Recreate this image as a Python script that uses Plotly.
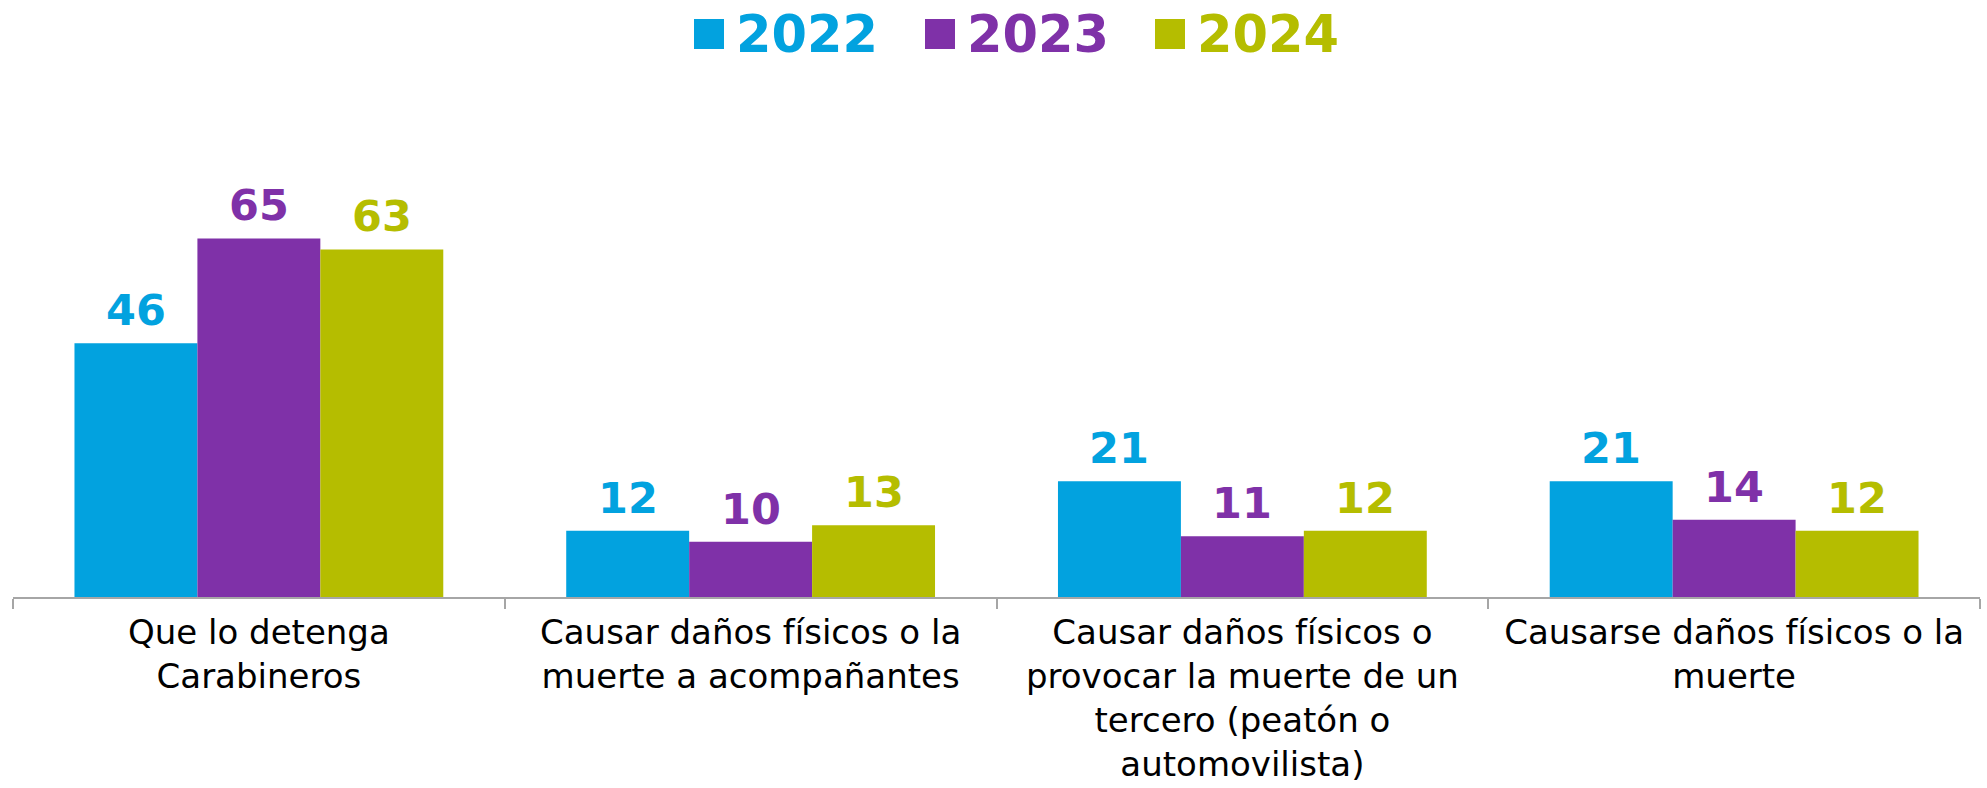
import plotly.graph_objects as go

categories = [
    "Que lo detenga<br>Carabineros",
    "Causar daños físicos o la<br>muerte a acompañantes",
    "Causar daños físicos o<br>provocar la muerte de un<br>tercero (peatón o<br>automovilista)",
    "Causarse daños físicos o la<br>muerte",
]
series_names = ["2022", "2023", "2024"]
values_2022 = [46, 12, 21, 21]
values_2023 = [65, 10, 11, 14]
values_2024 = [63, 13, 12, 12]
colors = ["#02A2DF", "#7F31A8", "#B5BD00"]

series_values = [values_2022, values_2023, values_2024]

W, H = 1987, 788
ML, MR, MT, MB = 13, 7, 100, 191
PW, PH = W - ML - MR, H - MT - MB
YMAX = 90.1
BARGAP = 0.25
FONT_BOLD = "DejaVu Sans"
FONT_LABEL = "DejaVu Sans"


def px_x(px):
    return (px - ML) / PW


def px_y(py):
    return 1 + (MT - py) / PH


fig = go.Figure()
for name, vals, col in zip(series_names, series_values, colors):
    fig.add_trace(go.Bar(
        x=categories, y=vals, name=name,
        marker=dict(color=col, line=dict(width=0)),
        showlegend=False, hoverinfo="y",
    ))

# data labels above bars, placed with the axis scale
nser = len(series_names)
bw = (1 - BARGAP) / nser
annotations = []
for i, (vals, col) in enumerate(zip(series_values, colors)):
    for j, v in enumerate(vals):
        annotations.append(dict(
            x=j + (i - (nser - 1) / 2) * bw, y=v, xref="x", yref="y",
            text=f"<b>{v}</b>", showarrow=False, yanchor="bottom", yshift=6,
            font=dict(family=FONT_BOLD, size=43, color=col),
        ))

# custom legend
shapes = []
leg_sq_left = [694, 925, 1155]
sq = 30
cy = 35
for k, (name, col) in enumerate(zip(series_names, colors)):
    x0 = leg_sq_left[k]
    shapes.append(dict(type="rect", xref="paper", yref="paper",
                       x0=px_x(x0), x1=px_x(x0 + sq), y0=px_y(cy - 1 + sq / 2), y1=px_y(cy - 1 - sq / 2),
                       fillcolor=col, line=dict(width=0)))
    annotations.append(dict(
        x=px_x(x0 + sq + 10), y=px_y(cy), xref="paper", yref="paper",
        text=f"<b>{name}</b>", showarrow=False, xanchor="left", yanchor="middle",
        font=dict(family=FONT_BOLD, size=51, color=col),
    ))

fig.update_layout(
    width=W, height=H,
    margin=dict(l=ML, r=MR, t=MT, b=MB, pad=0, autoexpand=False),
    paper_bgcolor="white", plot_bgcolor="white",
    barmode="group", bargap=BARGAP, bargroupgap=0,
    annotations=annotations, shapes=shapes,
    showlegend=False,
)
fig.update_xaxes(
    type="category", automargin=False,
    showline=True, linecolor="#A6A6A6", linewidth=1.5,
    ticks="outside", tickson="boundaries", ticklen=10, tickcolor="#A6A6A6", tickwidth=1.5,
    ticklabelstandoff=4,
    showgrid=False, zeroline=False,
    tickfont=dict(family=FONT_LABEL, size=34, color="#000000"),
    fixedrange=True,
)
fig.update_yaxes(range=[0, YMAX], visible=False, showgrid=False, zeroline=False,
                 fixedrange=True, automargin=False)

fig.write_html("out.html", config={"displayModeBar": False},
               post_script="document.body.style.margin='0';")
